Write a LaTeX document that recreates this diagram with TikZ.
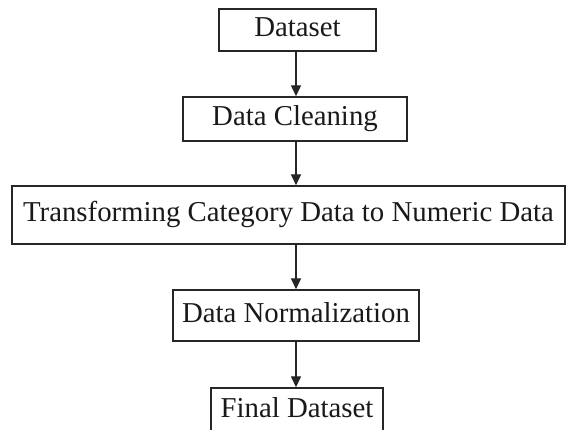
\documentclass[tikz,border=0pt]{standalone}
\usepackage{fontspec}
\setmainfont{Liberation Serif}
\usetikzlibrary{arrows.meta}
\begin{document}
\begin{tikzpicture}[x=1pt,y=-1pt,
  box/.style={draw=black!85, line width=1.4pt, inner sep=0pt, text=black!90,
    font=\fontsize{28.8}{30}\selectfont, text height=20pt, text depth=6pt},
  arr/.style={draw=black!85, line width=1.4pt, -{Triangle[length=11pt,width=10pt]}}]
\useasboundingbox (0,0) rectangle (571,430);
\clip (0,0) rectangle (571,430);
\coordinate (ax) at (296,0);
\node[box, minimum width=157pt, minimum height=42pt] (ds) at (297.5,30) {Dataset};
\node[box, minimum width=224pt, minimum height=44pt] (dc) at (295,119) {Data Cleaning};
\node[box, minimum width=553pt, minimum height=58pt] (tr) at (288.5,215) {Transforming Category Data to Numeric Data};
\node[box, minimum width=246pt, minimum height=51pt] (dn) at (296,315.5) {Data Normalization};
\node[box, minimum width=172pt, minimum height=46pt] (fd) at (297,411) {Final Dataset};
\draw[arr] (ds.south -| ax) -- (dc.north -| ax);
\draw[arr] (dc.south -| ax) -- (tr.north -| ax);
\draw[arr] (tr.south -| ax) -- (dn.north -| ax);
\draw[arr] (dn.south -| ax) -- (fd.north -| ax);
\end{tikzpicture}
\end{document}
